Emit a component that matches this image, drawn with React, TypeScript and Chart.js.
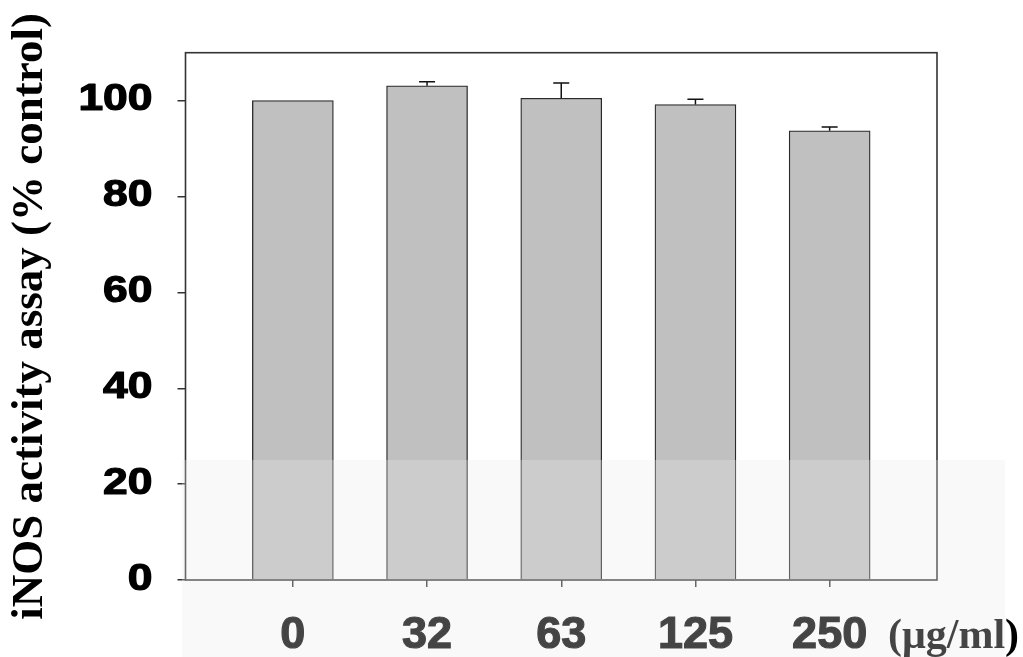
import { useEffect, useRef } from "react";
import { Chart, registerables } from "chart.js";

Chart.register(...registerables);

// Dose groups (µg/ml) and measured iNOS activity, % of control
const doses = ["0", "32", "63", "125", "250"];
const activity = [100, 103.1, 100.5, 99.2, 93.7];
const errorUp = [0, 0.85, 3.2, 1.1, 0.8];
const yTicks = [0, 20, 40, 60, 80, 100];
const yTitle = "iNOS activity assay (% control)";
const unitLabel = "(\u03bcg/ml)";

const SANS = '"Liberation Sans", Arial, sans-serif';
const SERIF = '"Liberation Serif", "Times New Roman", serif';

const decorations = {
  id: "decorations",
  afterDatasetsDraw(chart: any) {
    const { ctx, scales } = chart;
    const meta = chart.getDatasetMeta(0);
    ctx.save();
    ctx.strokeStyle = "#111";
    ctx.lineWidth = 1.5;
    meta.data.forEach((bar: any, i: number) => {
      const e = errorUp[i];
      if (!e) return;
      const yTop = scales.y.getPixelForValue(activity[i] + e);
      const yBase = scales.y.getPixelForValue(activity[i]);
      ctx.beginPath();
      ctx.moveTo(bar.x, yBase);
      ctx.lineTo(bar.x, yTop);
      ctx.moveTo(bar.x - 8, yTop);
      ctx.lineTo(bar.x + 8, yTop);
      ctx.stroke();
    });
    ctx.restore();
  },
  afterDraw(chart: any) {
    const { ctx, chartArea, scales } = chart;
    ctx.save();
    // plot frame
    ctx.strokeStyle = "#333";
    ctx.lineWidth = 1.6;
    ctx.strokeRect(chartArea.left, chartArea.top, chartArea.right - chartArea.left, chartArea.bottom - chartArea.top);

    // y tick labels, wide heavy sans
    ctx.fillStyle = "#000";
    ctx.strokeStyle = "#000";
    ctx.lineWidth = 1.2;
    ctx.lineJoin = "round";
    ctx.font = `bold 37px ${SANS}`;
    ctx.textAlign = "right";
    ctx.textBaseline = "alphabetic";
    yTicks.forEach((v) => {
      const y = scales.y.getPixelForValue(v);
      ctx.save();
      ctx.translate(chartArea.left - 33, y + 9.5);
      ctx.scale(1.2, 1);
      ctx.fillText(String(v), 0, 0);
      ctx.strokeText(String(v), 0, 0);
      ctx.restore();
    });

    // unit label beside the last category
    ctx.font = `bold 42px ${SERIF}`;
    ctx.textAlign = "left";
    ctx.fillText(unitLabel, 888, 648);

    // light haze over the lower band
    ctx.fillStyle = "rgba(234,234,234,0.29)";
    ctx.fillRect(182, 460, 823, 197);
    ctx.restore();
  },
};

export default function App() {
  const ref = useRef<HTMLCanvasElement | null>(null);

  useEffect(() => {
    if (!ref.current) return;
    const chart = new Chart(ref.current, {
      type: "bar",
      data: {
        datasets: [
          {
            data: activity.map((v, i) => ({ x: i, y: v })),
            backgroundColor: "#c0c0c0",
            borderColor: "#2a2a2a",
            borderWidth: 1.3,
            barThickness: 81,
          },
        ],
      },
      options: {
        animation: false,
        responsive: false,
        devicePixelRatio: 1,
        layout: { padding: { top: 52.7, right: 86, left: 0, bottom: 0 } },
        plugins: { legend: { display: false }, tooltip: { enabled: false } },
        scales: {
          x: {
            type: "linear",
            min: -0.8,
            max: 4.8,
            offset: false,
            afterBuildTicks: (s: any) => {
              s.ticks = doses.map((_, i) => ({ value: i }));
            },
            ticks: {
              callback: (v: any) => doses[v as number],
              font: { family: SANS, weight: "bold", size: 45 },
              color: "#000",
              textStrokeColor: "#000",
              textStrokeWidth: 1.2,
              padding: 22,
              autoSkip: false,
              maxRotation: 0,
            },
            grid: { offset: false, drawOnChartArea: false, drawTicks: true, tickLength: 7, color: "#333", lineWidth: 1.5 },
            border: { display: false },
            afterFit: (s: any) => {
              s.height = 77;
            },
          },
          y: {
            min: 0,
            max: 110,
            afterBuildTicks: (s: any) => {
              s.ticks = yTicks.map((v) => ({ value: v }));
            },
            ticks: { display: false },
            grid: { drawOnChartArea: false, drawTicks: true, tickLength: 8, color: "#333", lineWidth: 1.5 },
            border: { display: false },
            title: {
              display: true,
              text: yTitle,
              font: { family: SERIF, weight: "bold", size: 45 },
              color: "#000",
              padding: { top: 3, bottom: 0 },
            },
            afterFit: (s: any) => {
              s.width = 185.5;
            },
          },
        },
      } as any,
      plugins: [decorations],
    });
    return () => chart.destroy();
  }, []);

  return (
    <div style={{ position: "fixed", left: 0, top: 0, width: 1023, height: 657, background: "#fff" }}>
      <canvas ref={ref} width={1023} height={657} style={{ display: "block" }} />
    </div>
  );
}
